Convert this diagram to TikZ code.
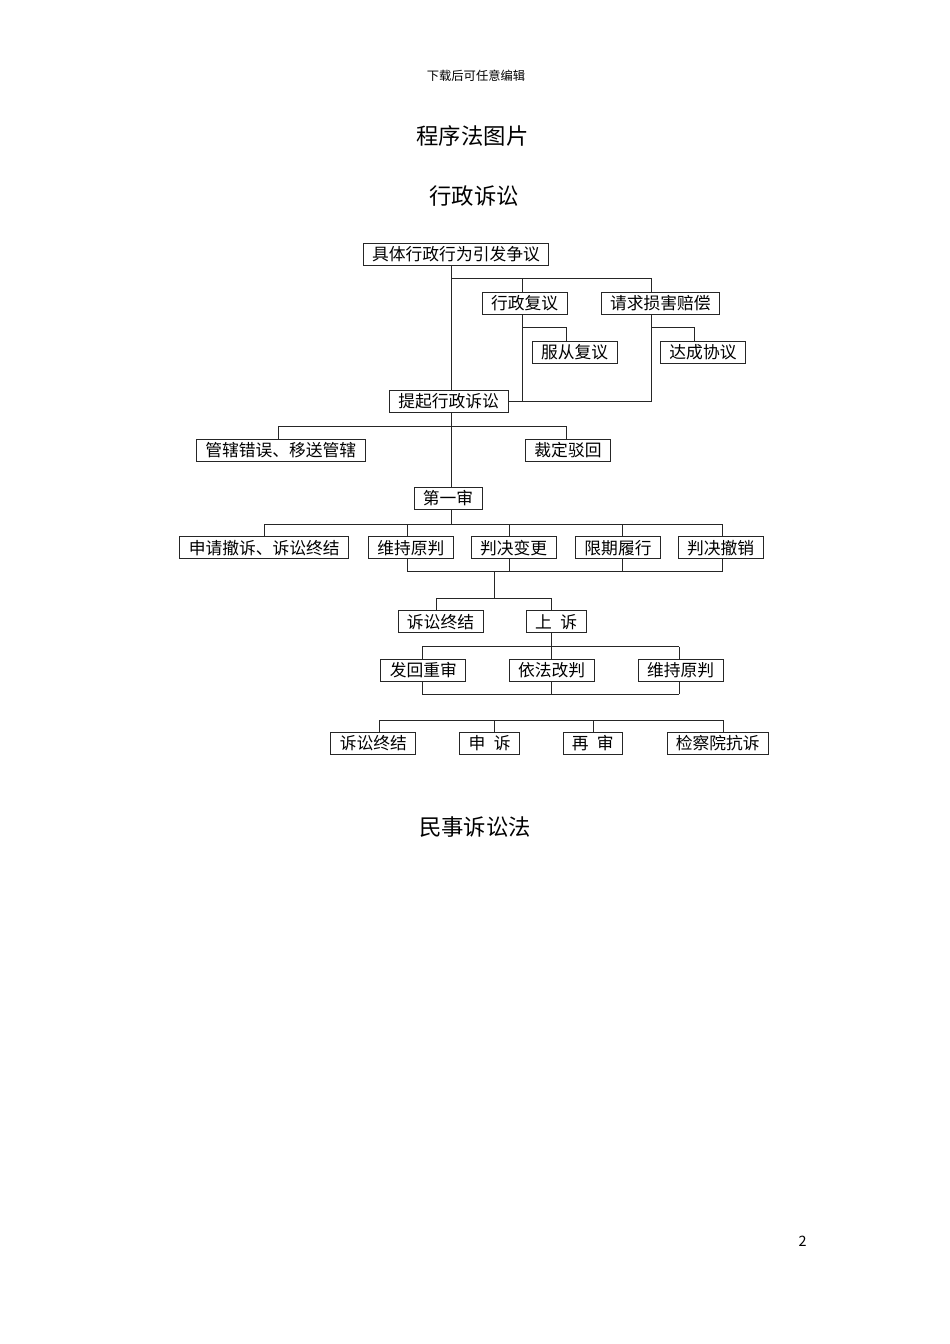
\documentclass[tikz,border=0pt]{standalone}
\usepackage{fontspec}
\setmainfont{Noto Sans CJK SC}
\usetikzlibrary{positioning}

\tikzset{
  box/.style={draw=black!85, line width=0.5pt, inner xsep=5.6pt, inner ysep=0pt,
    minimum height=13.8pt, font=\fontsize{10.5}{12}\selectfont},
  link/.style={draw=black!85, line width=0.5pt},
  title/.style={font=\fontsize{14}{16}\selectfont},
}

\begin{document}
\begin{tikzpicture}[x=0.6263pt, y=-0.6263pt]
    \useasboundingbox (0,0) rectangle (950,1344);

    \node[font=\fontsize{7.7}{9}\selectfont] (head) at (476,75.5) {下载后可任意编辑};
    \node[title] (main-title) at (472.5,136) {程序法图片};
    \node[title] (admin-title) at (474,196.5) {行政诉讼};
    \node[title] (civil-title) at (475,827.5) {民事诉讼法};
    \node[font=\fontsize{9}{10}\selectfont] (page-no) at (802.7,1241.7) {2};

    % boxes
    \node[box] (top) at (456,254) {具体行政行为引发争议};
    \node[box] (fuyi) at (524.6,303) {行政复议};
    \node[box] (peichang) at (660.3,303) {请求损害赔偿};
    \node[box] (fucong) at (574.7,352.5) {服从复议};
    \node[box] (xieyi) at (703,352.5) {达成协议};
    \node[box] (qisu) at (448.7,401) {提起行政诉讼};
    \node[box] (guanxia) at (280.7,450.3) {管辖错误、移送管辖};
    \node[box] (bohui) at (568,450.3) {裁定驳回};
    \node[box] (yishen) at (448,498.3) {第一审};

    \node[box] (chesu) at (264.2,547.8) {申请撤诉、诉讼终结};
    \node[box] (weichi1) at (410.8,547.8) {维持原判};
    \node[box] (biangeng) at (513.7,547.8) {判决变更};
    \node[box] (lvxing) at (618,547.8) {限期履行};
    \node[box] (chexiao) at (720.7,547.8) {判决撤销};

    \node[box] (zhongjie1) at (440.5,621.8) {诉讼终结};
    \node[box] (shangsu) at (556.2,621.8) {上\hspace{.5em}诉};

    \node[box] (fahui) at (423.3,670) {发回重审};
    \node[box] (gaipan) at (551.7,670) {依法改判};
    \node[box] (weichi2) at (680.7,670) {维持原判};

    \node[box] (zhongjie2) at (373.3,743.5) {诉讼终结};
    \node[box] (shensu) at (489.7,743.5) {申\hspace{.5em}诉};
    \node[box] (zaishen) at (592.8,743.5) {再\hspace{.5em}审};
    \node[box] (kangsu) at (717.8,743.5) {检察院抗诉};

    % trunk
    \coordinate (trunk) at (451,0);
    \draw[link] (top.south -| trunk) -- (qisu.north -| trunk);
    \draw[link] (qisu.south -| trunk) -- (yishen.north -| trunk);

    % reconsideration and compensation
    \coordinate (busA) at (0,278.3);
    \coordinate (busB) at (0,327.7);
    \coordinate (vfuyi) at (522.7,0);
    \coordinate (vpei) at (651.7,0);
    \coordinate (vfc) at (566.7,0);
    \coordinate (vxy) at (694,0);
    \draw[link] (trunk |- busA) -- (vpei |- busA);
    \draw[link] (vfuyi |- busA) -- (fuyi.north -| vfuyi);
    \draw[link] (vpei |- busA) -- (peichang.north -| vpei);
    \draw[link] (fuyi.south -| vfuyi) -- (vfuyi |- qisu.east);
    \draw[link] (peichang.south -| vpei) |- (qisu.east);
    \draw[link] (vfuyi |- busB) -| (fucong.north -| vfc);
    \draw[link] (vpei |- busB) -| (xieyi.north -| vxy);

    % jurisdiction
    \coordinate (busC) at (0,426.7);
    \coordinate (vgx) at (278.3,0);
    \coordinate (vbh) at (566,0);
    \draw[link] (guanxia.north -| vgx) -- (vgx |- busC) -- (vbh |- busC) -- (bohui.north -| vbh);

    % first instance
    \coordinate (bus5t) at (0,524.3);
    \coordinate (bus5b) at (0,571.7);
    \foreach \n/\x in {chesu/264.3, weichi1/407.7, biangeng/509, lvxing/622.7, chexiao/722.3} {
        \coordinate (v\n) at (\x,0);
        \draw[link] (v\n |- bus5t) -- (\n.north -| v\n);
    };
    \draw[link] (yishen.south -| trunk) -- (trunk |- bus5t);
    \draw[link] (vchesu |- bus5t) -- (vchexiao |- bus5t);
    \foreach \n in {weichi1, biangeng, lvxing, chexiao} {
        \draw[link] (\n.south -| v\n) -- (v\n |- bus5b);
    };
    \draw[link] (vweichi1 |- bus5b) -- (vchexiao |- bus5b);

    % appeal
    \coordinate (bus6) at (0,598.3);
    \coordinate (vmid) at (494,0);
    \coordinate (vzj) at (436.7,0);
    \coordinate (vss) at (551.7,0);
    \draw[link] (vmid |- bus5b) -- (vmid |- bus6);
    \draw[link] (zhongjie1.north -| vzj) -- (vzj |- bus6) -- (vss |- bus6) -- (shangsu.north -| vss);

    \coordinate (bus7t) at (0,646.7);
    \coordinate (bus7b) at (0,694.3);
    \draw[link] (shangsu.south -| vss) -- (vss |- bus7t);
    \foreach \n/\x in {fahui/422.3, gaipan/551.7, weichi2/679.3} {
        \coordinate (v\n) at (\x,0);
        \draw[link] (v\n |- bus7t) -- (\n.north -| v\n);
        \draw[link] (\n.south -| v\n) -- (v\n |- bus7b);
    };
    \draw[link] (vfahui |- bus7t) -- (vweichi2 |- bus7t);
    \draw[link] (vfahui |- bus7b) -- (vweichi2 |- bus7b);

    % after judgement
    \coordinate (bus8) at (0,720);
    \foreach \n/\x in {zhongjie2/379.3, shensu/494, zaishen/593.3, kangsu/723.3} {
        \coordinate (v\n) at (\x,0);
        \draw[link] (v\n |- bus8) -- (\n.north -| v\n);
    };
    \draw[link] (vzhongjie2 |- bus8) -- (vkangsu |- bus8);

\end{tikzpicture}
\end{document}
